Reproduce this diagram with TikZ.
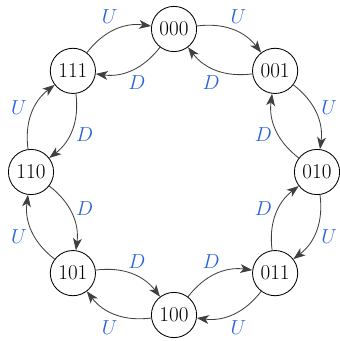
\documentclass[tikz,border=0pt]{standalone}
\usetikzlibrary{arrows.meta}
\definecolor{lblblue}{RGB}{40,100,215}

\begin{document}
\begin{tikzpicture}[
    state/.style={draw, circle, minimum size=1.13cm, inner sep=0pt,
                  font=\fontsize{15}{18}\selectfont, line width=0.6pt},
    arr/.style={-{Stealth[length=3mm, width=2.2mm, inset=0.8mm]}, line width=0.6pt,
                draw=black!75, bend left=30},
    lbl/.style={font=\fontsize{14}{17}\selectfont, text=lblblue, inner sep=0pt},
]
\useasboundingbox (0,0) rectangle (8.5,-8.525);
\coordinate (c) at (4.35,-4.3);

% states on a ring, counting clockwise from the top
\foreach \name [count=\i from 0] in {000,001,010,011,100,101,110,111}
  \node[state] (s\name) at ([shift={(c)}] 90-45*\i:3.575) {\name};

% U counts up (outer arcs), D counts down (inner arcs)
\foreach \a/\b [count=\i from 0] in {000/001,001/010,010/011,011/100,100/101,101/110,110/111,111/000}{
  \pgfmathsetmacro\ang{67.5-45*\i}
  \draw[arr] (s\a) to (s\b) node[lbl] (u\a) at ([shift={(c)}] \ang:4.2) {$U$};
  \draw[arr] (s\b) to (s\a) node[lbl] (d\a) at ([shift={(c)}] \ang:2.42) {$D$};
}
\end{tikzpicture}
\end{document}
